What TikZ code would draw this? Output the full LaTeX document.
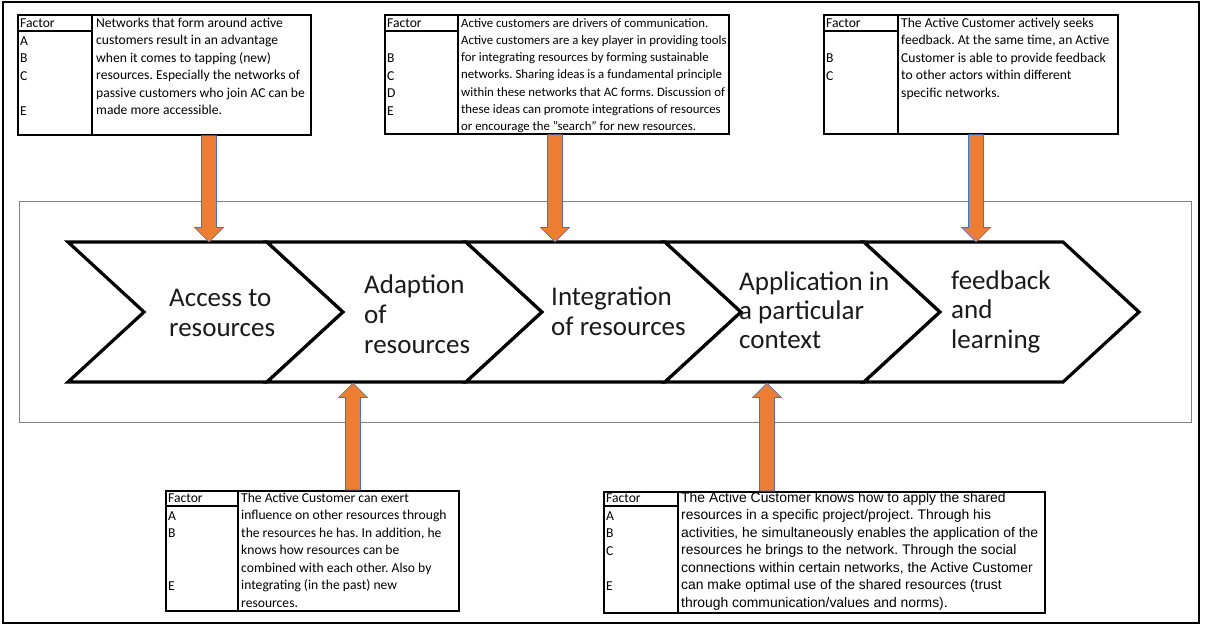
\documentclass[tikz,border=0pt]{standalone}
\usepackage{fontspec}
\setmainfont{Carlito}
\newfontfamily\arialf{Liberation Sans}
\usetikzlibrary{calc}
\frenchspacing
\definecolor{orng}{HTML}{ED7D31}
\definecolor{arrline}{HTML}{4472C4}
\definecolor{framegray}{HTML}{808080}
\definecolor{chevtext}{HTML}{1A1A1A}
\newcommand\boxfont{\fontsize{13.6}{17.5}\selectfont}
\newcommand\chevfont{\fontsize{27}{29.5}\selectfont}
% block arrow from start coordinate #1 to tip coordinate #2, #3 = offset of head base from tip
\newcommand\blockarr[3]{%
  \draw[blockarrow] let \p1=(#1), \p2=(#2), \p3=($(#2)+(0,#3)$) in
    (\x2-7.5,\y1) -- (\x2+7.5,\y1) -- (\x2+7.5,\y3) -- (\x2+14.5,\y3)
    -- (\x2,\y2) -- (\x2-14.5,\y3) -- (\x2-7.5,\y3) -- cycle;}
\begin{document}
\begin{tikzpicture}[x=1pt,y=-1pt,
  fbox/.style={draw, line width=1.6pt, minimum width=#1, anchor=north west, inner sep=0pt},
  tline/.style={line width=1.6pt},
  btxt/.style={anchor=base west, inner sep=0pt, font=\boxfont},
  ctxt/.style={anchor=base west, inner sep=0pt, font=\chevfont, text=chevtext},
  chev/.style={draw, fill=white, line width=3.2pt, line join=miter},
  blockarrow/.style={draw=arrline, line width=0.6pt, fill=orng}]
\useasboundingbox (0,0) rectangle (1208,625);
\fill[white] (0,0) rectangle (1208,625);
\draw[line width=1.5pt] (3,2) rectangle (1199,623);
% inner frame
\draw[framegray, line width=1pt] (19,201) rectangle (1191,422);
% chevrons
\foreach \L in {68,267,466,665,864}{
  \draw[chev] (\L,242) -- (\L+199,242) -- (\L+275,312) -- (\L+199,382) -- (\L,382) -- (\L+76,312) -- cycle;}
% chevron labels
\node[ctxt] (c1a) at (169,306) {Access to};
\node[ctxt] (c1b) at (169,336) {resources};
\node[ctxt] (c2a) at (364,293) {Adaption};
\node[ctxt] (c2b) at (364,323) {of};
\node[ctxt] (c2c) at (364,353) {resources};
\node[ctxt] (c3a) at (551,305) {Integration};
\node[ctxt] (c3b) at (551,335) {of resources};
\node[ctxt] (c4a) at (739,290) {Application in};
\node[ctxt] (c4b) at (739,319) {a particular};
\node[ctxt] (c4c) at (739,348) {context};
\node[ctxt] (c5a) at (951,289) {feedback};
\node[ctxt] (c5b) at (951,318) {and};
\node[ctxt] (c5c) at (951,348) {learning};
% arrow targets on chevron edges
\coordinate (t1) at (209,242);
\coordinate (t2) at (555,242);
\coordinate (t3) at (976,242);
\coordinate (u1) at (353,383);
\coordinate (u2) at (767,383);
% ---------- box 1
\node[fbox=293pt, minimum height=120pt] (b1) at (17,14) {};
\draw[tline] (92,14) -- (92,134);
\draw[tline] (17,31) -- (92,31);
\node[btxt] (b1f) at (20,27) {Factor};
\node[btxt] (b1A) at (20,45) {A};
\node[btxt] (b1B) at (20,62) {B};
\node[btxt] (b1C) at (20,80) {C};
\node[btxt] (b1E) at (20,115) {E};
\foreach \t [count=\i] in {Networks that form around active, customers result in an advantage, when it comes to tapping (new), {resources. Especially the networks of}, passive customers who join AC can be, made more accessible.}
  \node[btxt] (b1l\i) at (96,27+17.55*\i-17.55) {\t};
% ---------- box 2
\node[fbox=344pt, minimum height=119pt] (b2) at (384,14) {};
\draw[tline] (458,14) -- (458,133);
\draw[tline] (384,31) -- (458,31);
\node[btxt] (b2f) at (387,27) {Factor};
\node[btxt] (b2B) at (387,62) {B};
\node[btxt] (b2C) at (387,80) {C};
\node[btxt] (b2D) at (387,97) {D};
\node[btxt] (b2E) at (387,115) {E};
\foreach \t [count=\i] in {Active customers are drivers of communication., Active customers are a key player in providing tools, for integrating resources by forming sustainable, networks. Sharing ideas is a fundamental principle, within these networks that AC forms. Discussion of, these ideas can promote integrations of resources, {or encourage the "search" for new resources.}}
  \node[btxt, font=\fontsize{12.8}{17.3}\selectfont] (b2l\i) at (461,27+17.3*\i-17.3) {\t};
% ---------- box 3
\node[fbox=294pt, minimum height=119pt] (b3) at (823,14) {};
\draw[tline] (898,14) -- (898,133);
\draw[tline] (823,31) -- (898,31);
\node[btxt] (b3f) at (826,27) {Factor};
\node[btxt] (b3B) at (826,62) {B};
\node[btxt] (b3C) at (826,80) {C};
\foreach \t [count=\i] in {The Active Customer actively seeks, {feedback. At the same time, an Active}, Customer is able to provide feedback, to other actors within different, specific networks.}
  \node[btxt] (b3l\i) at (901,27+17.55*\i-17.55) {\t};
% ---------- box 4
\node[fbox=293pt, minimum height=120pt] (b4) at (165,490) {};
\draw[tline] (238,490) -- (238,610);
\draw[tline] (165,506) -- (238,506);
\node[btxt] (b4f) at (168,502) {Factor};
\node[btxt] (b4A) at (168,520) {A};
\node[btxt] (b4B) at (168,537) {B};
\node[btxt] (b4E) at (168,590) {E};
\foreach \t [count=\i] in {The Active Customer can exert, influence on other resources through, {the resources he has. In addition, he}, knows how resources can be, combined with each other. Also by, integrating (in the past) new, resources.}
  \node[btxt] (b4l\i) at (241,502+17.5*\i-17.5) {\t};
% ---------- box 5
\node[fbox=441pt, minimum height=121pt] (b5) at (603,491) {};
\draw[tline] (678,491) -- (678,612);
\draw[tline] (603,506) -- (678,506);
\node[btxt] (b5f) at (606,502) {Factor};
\node[btxt] (b5A) at (606,520) {A};
\node[btxt] (b5B) at (606,537) {B};
\node[btxt] (b5C) at (606,555) {C};
\node[btxt] (b5E) at (606,590) {E};
\foreach \t [count=\i] in {The Active Customer knows how to apply the shared, resources in a specific project/project. Through his, {activities, he simultaneously enables the application of the}, resources he brings to the network. Through the social, {connections within certain networks, the Active Customer}, can make optimal use of the shared resources (trust, through communication/values and norms).}
  \node[btxt, font=\arialf\fontsize{13.9}{17.5}\selectfont] (b5l\i) at (681,502+17.5*\i-17.5) {\t};
% ---------- arrows
\coordinate (s1) at (t1 |- b1.south);
\coordinate (s2) at (t2 |- b2.south);
\coordinate (s3) at (t3 |- b3.south);
\coordinate (s4) at (u1 |- b4.north);
\coordinate (s5) at (u2 |- b5.north);
\blockarr{s1}{t1}{-14.5}
\blockarr{s2}{t2}{-14.5}
\blockarr{s3}{t3}{-14.5}
\blockarr{s4}{u1}{14.5}
\blockarr{s5}{u2}{14.5}
\end{tikzpicture}
\end{document}
